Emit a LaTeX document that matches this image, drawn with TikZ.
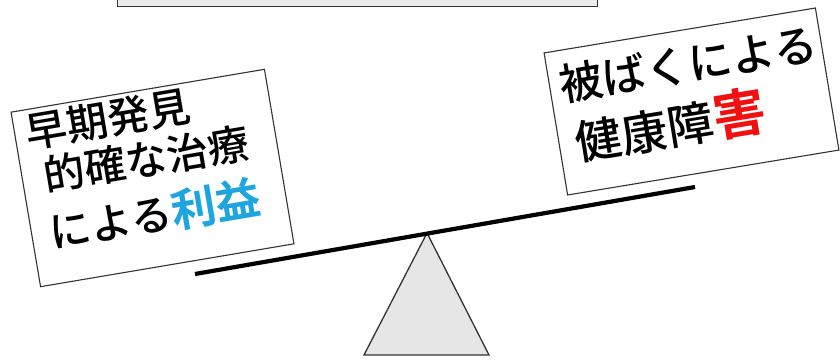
\documentclass[tikz,border=0pt]{standalone}
\usepackage{fontspec}
\setmainfont{Noto Sans CJK JP Medium}[BoldFont={Noto Sans CJK JP Bold}]
\definecolor{benefit}{HTML}{1EA5E0}
\definecolor{harm}{HTML}{F01010}
\definecolor{edge}{HTML}{333333}
\begin{document}
\begin{tikzpicture}[x=1pt,y=1pt,
  card/.style={draw=edge,fill=white,line width=1.1pt,inner sep=0pt},
  line/.style={inner sep=0pt,outer sep=0pt,anchor=base west,text=black},
  lfont/.style={font=\fontsize{41.5}{44}\selectfont},
  rfont/.style={font=\fontsize{43.5}{46}\selectfont}]
\useasboundingbox (0,0) rectangle (840,360);
% top box (cut off by the page edge)
\node[draw=edge,fill={rgb,255:red,236;green,236;blue,236},line width=1.3pt,
  minimum width=480pt,minimum height=30pt,anchor=south west,inner sep=0pt]
  (topbox) at (117,353) {};
% left card
\node[card,rotate=9.6,minimum width=257pt,minimum height=177pt] (lcard) at (152.5,182) {};
\begin{scope}[shift={(lcard.center)},rotate=9.6,transform shape]
  \node[line,lfont] (l1) at (-117,50) {早期発見};
  \node[line,lfont] (l2) at (-107,4) {的確な治療};
  \node[line,lfont] (l3) at (-110,-53) {による{\fontsize{45}{47}\selectfont\bfseries\color{benefit}利益}};
\end{scope}
% right card
\node[card,rotate=9.4,minimum width=275pt,minimum height=144pt] (rcard) at (691.5,258.5) {};
\begin{scope}[shift={(rcard.center)},rotate=9.4,transform shape]
  \node[line,rfont] (r1) at (-127,21) {被ばくによる};
  \node[line,font=\fontsize{46.5}{48}\selectfont] (r2) at (-121,-40) {健康障{\fontsize{53}{55}\selectfont\bfseries\color{harm}害}};
\end{scope}
% fulcrum
\coordinate (apex) at (427,127);
\coordinate (baseL) at (364,5);
\coordinate (baseR) at (489,5);
\draw[draw=edge,fill={rgb,255:red,230;green,230;blue,230},line width=1.3pt,line join=miter]
  (baseL) -- (baseR) -- (apex) -- cycle;
% beam
\coordinate (beamL) at (195,86);
\coordinate (beamR) at (695,173);
\draw[line width=4.2pt,black] (beamL) -- (beamR);
\end{tikzpicture}
\end{document}
